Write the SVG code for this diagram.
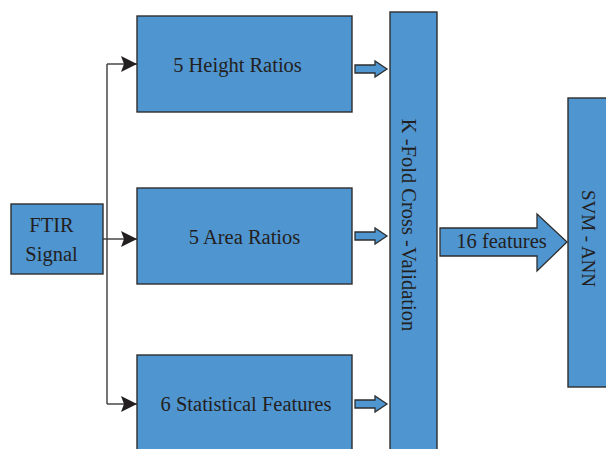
<svg xmlns="http://www.w3.org/2000/svg" width="606" height="449" viewBox="0 0 606 449">
<style>
.box{fill:#4f95d0;stroke:#2e2e2e;stroke-width:1.4}
.lbl{font-family:'Liberation Serif','Times New Roman',serif;font-size:20.5px;fill:#231f20}
.conn{fill:none;stroke:#3a3a3a;stroke-width:1.4}
.barrow{fill:#4f95d0;stroke:#2e2e2e;stroke-width:1.3}
</style>
<defs>
<marker id="ah" markerUnits="userSpaceOnUse" markerWidth="16" markerHeight="16" refX="16" refY="8" orient="auto" viewBox="0 0 16 16">
<path d="M0,0 L16,8 L0,16 L3,8 z" fill="#231f20"/>
</marker>
</defs>
<rect width="606" height="449" fill="#ffffff"/>
<g id="connectors">
<path class="conn" d="M103,239 H107"/>
<path class="conn" d="M107,64 V404"/>
<path class="conn" d="M107,64 H137" marker-end="url(#ah)"/>
<path class="conn" d="M107,239 H137" marker-end="url(#ah)"/>
<path class="conn" d="M107,404 H137" marker-end="url(#ah)"/>
<polygon class="barrow" points="355,65 375,65 375,61 387,69 375,77 375,73 355,73"/>
<polygon class="barrow" points="355,232 375,232 375,228 387,236 375,244 375,240 355,240"/>
<polygon class="barrow" points="355,400 375,400 375,396 387,404 375,412 375,408 355,408"/>
<g id="features-arrow">
<polygon class="barrow" points="440,228 537,228 537,214 567,242 537,271 537,256 440,256"/>
<text class="lbl" x="501.5" y="248" text-anchor="middle">16 features</text>
</g>
</g>
<g id="ftir">
<rect class="box" x="11" y="204" width="92" height="70"/>
<text class="lbl" x="51.5" y="232" text-anchor="middle">FTIR</text>
<text class="lbl" x="51.5" y="261" text-anchor="middle">Signal</text>
</g>
<g id="height">
<rect class="box" x="137" y="16" width="215" height="96"/>
<text class="lbl" x="237.5" y="72" text-anchor="middle">5 Height Ratios</text>
</g>
<g id="area">
<rect class="box" x="137" y="188" width="215" height="96"/>
<text class="lbl" x="244.5" y="244" text-anchor="middle">5 Area Ratios</text>
</g>
<g id="stat">
<rect class="box" x="137" y="355" width="215" height="110"/>
<text class="lbl" x="246" y="411" text-anchor="middle">6 Statistical Features</text>
</g>
<g id="kfold">
<rect class="box" x="390" y="12" width="47" height="450"/>
<text class="lbl" x="402" y="225" text-anchor="middle" transform="rotate(90 402 225)">K -Fold Cross -Validation</text>
</g>
<g id="svm">
<rect class="box" x="568" y="98" width="50" height="289"/>
<text class="lbl" style="font-size:19px" x="582" y="238.5" text-anchor="middle" transform="rotate(90 582 238.5)">SVM - ANN</text>
</g>
</svg>
